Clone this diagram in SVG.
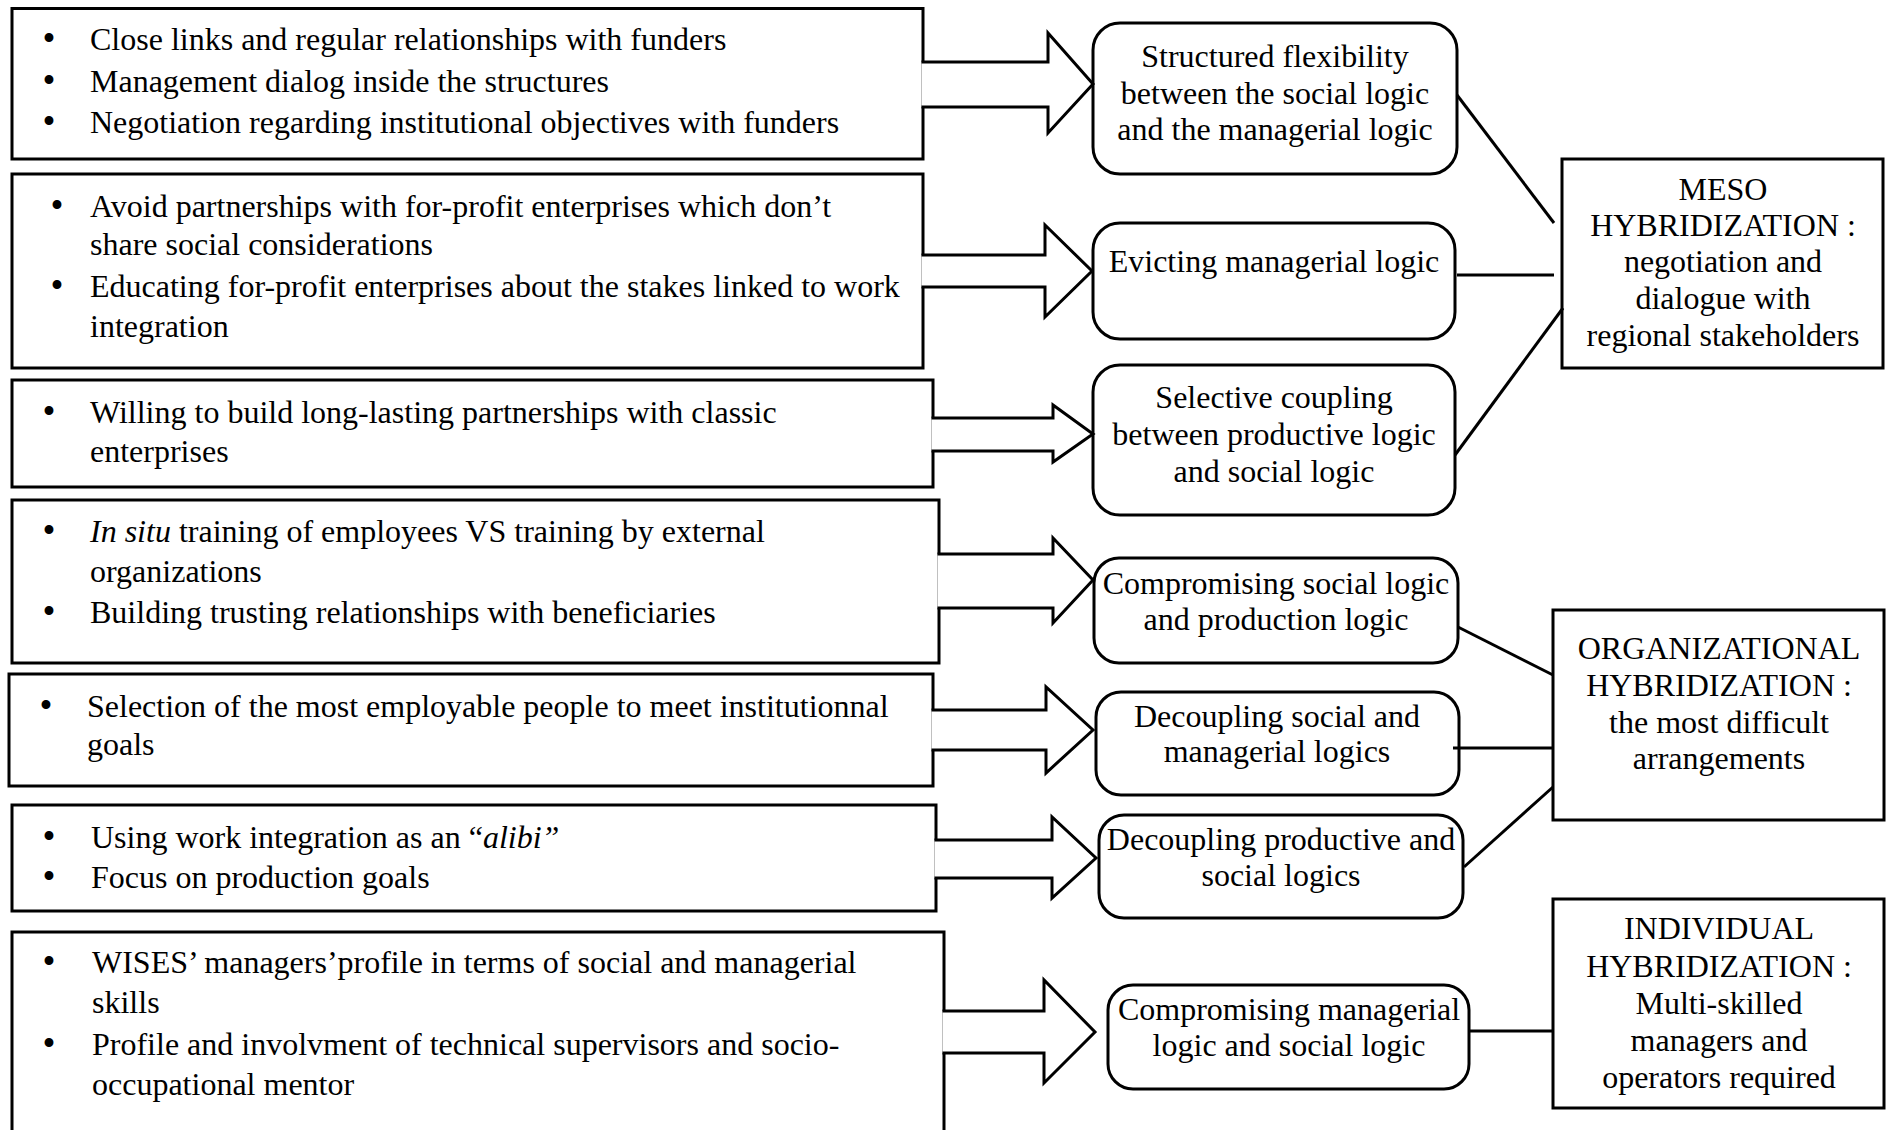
<svg xmlns="http://www.w3.org/2000/svg" width="1886" height="1130" viewBox="0 0 1886 1130">
<style>
.t{font-family:"Liberation Serif","Times New Roman",serif;font-size:32px;fill:#000}
.c{text-anchor:middle}
.b{text-anchor:middle;font-size:37px}
.i{font-style:italic}
.box{fill:#fff;stroke:#000;stroke-width:3}
.ln{fill:none;stroke:#000;stroke-width:3}
.arr{fill:#fff;stroke:#000;stroke-width:3;stroke-linejoin:miter}
</style>
<rect x="0" y="0" width="1886" height="1130" fill="#fff"/>

<g id="box1">
<rect class="box" x="12" y="8.5" width="911" height="150.5"/>
<text class="t b" x="49" y="51">•</text><text class="t" x="90" y="50">Close links and regular relationships with funders</text>
<text class="t b" x="49" y="93">•</text><text class="t" x="90" y="92">Management dialog inside the structures</text>
<text class="t b" x="49" y="134">•</text><text class="t" x="90" y="133">Negotiation regarding institutional objectives with funders</text>
</g>
<g id="box2">
<rect class="box" x="12" y="174" width="911" height="194"/>
<text class="t b" x="57" y="218">•</text><text class="t" x="90" y="217">Avoid partnerships with for-profit enterprises which don’t</text>
<text class="t" x="90" y="255">share social considerations</text>
<text class="t b" x="57" y="298">•</text><text class="t" x="90" y="297">Educating for-profit enterprises about the stakes linked to work</text>
<text class="t" x="90" y="337">integration</text>
</g>
<g id="box3">
<rect class="box" x="12" y="380" width="921" height="107"/>
<text class="t b" x="49" y="424">•</text><text class="t" x="90" y="423">Willing to build long-lasting partnerships with classic</text>
<text class="t" x="90" y="462">enterprises</text>
</g>
<g id="box4">
<rect class="box" x="12" y="500" width="927" height="163"/>
<text class="t b" x="49" y="543">•</text><text class="t" x="90" y="542"><tspan class="i">In situ</tspan> training of employees VS training by external</text>
<text class="t" x="90" y="582">organizations</text>
<text class="t b" x="49" y="624">•</text><text class="t" x="90" y="623">Building trusting relationships with beneficiaries</text>
</g>
<g id="box5">
<rect class="box" x="9" y="674" width="924" height="112"/>
<text class="t b" x="46" y="718">•</text><text class="t" x="87" y="717">Selection of the most employable people to meet institutionnal</text>
<text class="t" x="87" y="755">goals</text>
</g>
<g id="box6">
<rect class="box" x="12" y="805" width="924" height="106"/>
<text class="t b" x="49" y="849">•</text><text class="t" x="91" y="848">Using work integration as an “<tspan class="i">alibi”</tspan></text>
<text class="t b" x="49" y="889">•</text><text class="t" x="91" y="888">Focus on production goals</text>
</g>
<g id="box7">
<rect class="box" x="12" y="932" width="932" height="220"/>
<text class="t b" x="49" y="974">•</text><text class="t" x="92" y="973">WISES’ managers’profile in terms of social and managerial</text>
<text class="t" x="92" y="1013">skills</text>
<text class="t b" x="49" y="1056">•</text><text class="t" x="92" y="1055">Profile and involvment of technical supervisors and socio-</text>
<text class="t" x="92" y="1095">occupational mentor</text>
</g>

<g id="rb1">
<rect class="box" x="1093" y="23" width="364" height="151" rx="27"/>
<text class="t c" x="1275" y="67">Structured flexibility</text>
<text class="t c" x="1275" y="104">between the social logic</text>
<text class="t c" x="1275" y="140">and the managerial logic</text>
</g>
<g id="rb2">
<rect class="box" x="1093" y="223" width="362" height="116" rx="27"/>
<text class="t c" x="1274" y="272">Evicting managerial logic</text>
</g>
<g id="rb3">
<rect class="box" x="1093" y="365" width="362" height="150" rx="27"/>
<text class="t c" x="1274" y="408">Selective coupling</text>
<text class="t c" x="1274" y="445">between productive logic</text>
<text class="t c" x="1274" y="482">and social logic</text>
</g>
<g id="rb4">
<rect class="box" x="1094" y="558" width="364" height="105" rx="25"/>
<text class="t c" x="1276" y="594">Compromising social logic</text>
<text class="t c" x="1276" y="630">and production logic</text>
</g>
<g id="rb5">
<rect class="box" x="1096" y="692" width="363" height="103" rx="25"/>
<text class="t c" x="1277" y="727">Decoupling social and</text>
<text class="t c" x="1277" y="762">managerial logics</text>
</g>
<g id="rb6">
<rect class="box" x="1099" y="815" width="364" height="103" rx="25"/>
<text class="t c" x="1281" y="850">Decoupling productive and</text>
<text class="t c" x="1281" y="886">social logics</text>
</g>
<g id="rb7">
<rect class="box" x="1108" y="985" width="361" height="104" rx="25"/>
<text class="t c" x="1289" y="1020">Compromising managerial</text>
<text class="t c" x="1289" y="1056">logic and social logic</text>
</g>

<g id="meso">
<rect class="box" x="1562" y="159" width="321" height="209"/>
<text class="t c" x="1723" y="200">MESO</text>
<text class="t c" x="1723" y="236">HYBRIDIZATION :</text>
<text class="t c" x="1723" y="272">negotiation and</text>
<text class="t c" x="1723" y="309">dialogue with</text>
<text class="t c" x="1723" y="346">regional stakeholders</text>
</g>
<g id="org">
<rect class="box" x="1553" y="610" width="331" height="210"/>
<text class="t c" x="1719" y="659">ORGANIZATIONAL</text>
<text class="t c" x="1719" y="696">HYBRIDIZATION :</text>
<text class="t c" x="1719" y="733">the most difficult</text>
<text class="t c" x="1719" y="769">arrangements</text>
</g>
<g id="ind">
<rect class="box" x="1553" y="899" width="331" height="209"/>
<text class="t c" x="1719" y="939">INDIVIDUAL</text>
<text class="t c" x="1719" y="977">HYBRIDIZATION :</text>
<text class="t c" x="1719" y="1014">Multi-skilled</text>
<text class="t c" x="1719" y="1051">managers and</text>
<text class="t c" x="1719" y="1088">operators required</text>
</g>

<g id="connectors">
<path class="arr" d="M921.5 62 L1048 62 L1048 33 L1093 84 L1048 133 L1048 107 L921.5 107"/>
<path class="arr" d="M921.5 255 L1045 255 L1045 225 L1092 271 L1045 317 L1045 287 L921.5 287"/>
<path class="arr" d="M931.5 418 L1053 418 L1053 405 L1093 434 L1053 462 L1053 451 L931.5 451"/>
<path class="arr" d="M937.5 554 L1053 554 L1053 538 L1093 580 L1053 623 L1053 608 L937.5 608"/>
<path class="arr" d="M931.5 710 L1046 710 L1046 687 L1093 730 L1046 773 L1046 750 L931.5 750"/>
<path class="arr" d="M934.5 840 L1052 840 L1052 817 L1096 858 L1052 898 L1052 878 L934.5 878"/>
<path class="arr" d="M942.5 1011 L1044 1011 L1044 980 L1095 1032 L1044 1083 L1044 1053 L942.5 1053"/>
<line class="ln" x1="1457" y1="95" x2="1554" y2="223"/>
<line class="ln" x1="1457" y1="275" x2="1554" y2="275"/>
<line class="ln" x1="1455" y1="455" x2="1563" y2="308"/>
<line class="ln" x1="1458" y1="627" x2="1553" y2="675"/>
<line class="ln" x1="1453" y1="748" x2="1553" y2="748"/>
<line class="ln" x1="1464" y1="867" x2="1553" y2="787"/>
<line class="ln" x1="1469" y1="1031" x2="1553" y2="1031"/>
</g>
</svg>
